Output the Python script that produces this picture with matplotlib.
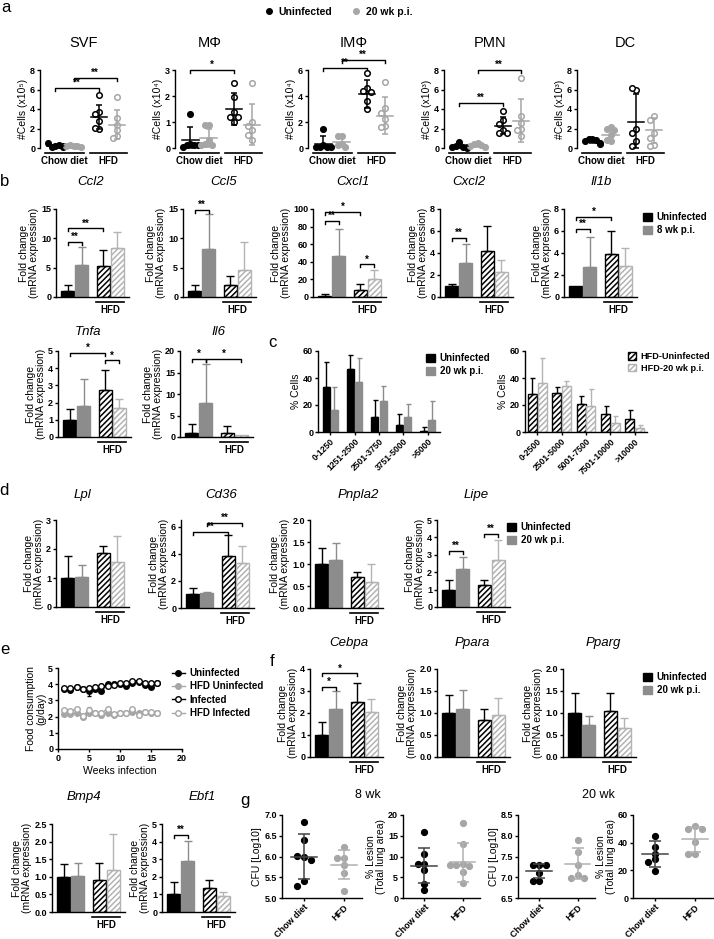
import numpy as np
import matplotlib.pyplot as plt
from matplotlib.patches import Patch
from matplotlib.lines import Line2D

W, H = 714, 939
BLACK = "#000000"
GREY = "#8c8c8c"
DOT_GREY = "#a6a6a6"
HATCH_GREY = "#b3b3b3"

plt.rcParams["font.family"] = ["Liberation Sans", "DejaVu Sans"]
plt.rcParams["font.weight"] = "bold"
plt.rcParams["hatch.linewidth"] = 1.1
plt.rcParams["axes.linewidth"] = 1.0

# ---------------- data ----------------
# a: cell numbers; groups = chow uninf, chow 20 wk, HFD uninf, HFD 20 wk
svf = [[0.2, 0.15, 0.3, 0.5, 0.1, 0.2], [0.25, 0.3, 0.2, 0.2, 0.15],
       [5.4, 3.7, 3.5, 2.8, 2.0, 2.1], [5.2, 3.1, 2.4, 1.8, 1.2, 1.0]]
svf_mean = [0.2, 0.2, 3.2, 2.4]
svf_sd = [0.15, 0.1, 1.2, 1.45]
mphi = [[1.3, 0.15, 0.1, 0.1, 0.05, 0.1], [0.9, 0.9, 0.3, 0.15, 0.1, 0.1],
        [2.5, 1.95, 1.4, 1.2, 1.2, 1.0], [2.5, 1.0, 0.85, 0.7, 0.5, 0.3]]
mphi_mean = [0.3, 0.4, 1.5, 0.9]
mphi_sd = [0.5, 0.35, 0.6, 0.8]
imphi = [[1.5, 0.2, 0.1, 0.05, 0.1, 0.05], [0.9, 0.9, 0.3, 0.2, 0.1],
         [5.8, 4.6, 4.4, 4.3, 3.6, 3.0], [5.1, 3.1, 2.7, 2.2, 1.7, 1.6]]
imphi_mean = [0.3, 0.5, 4.15, 2.5]
imphi_sd = [0.6, 0.35, 1.05, 1.4]
pmn = [[0.6, 0.2, 0.1, 0.1, 0.05, 0.1], [0.5, 0.4, 0.3, 0.2, 0.1],
       [3.8, 2.9, 2.5, 1.8, 1.5, 1.5], [7.2, 3.3, 2.6, 2.0, 1.8, 1.2]]
pmn_mean = [0.2, 0.3, 2.3, 2.8]
pmn_sd = [0.25, 0.2, 0.9, 2.2]
dc = [[0.9, 0.9, 0.8, 0.7, 0.5, 0.4], [2.2, 2.0, 1.8, 1.3, 0.8, 0.7],
      [6.0, 6.2, 2.0, 1.5, 0.7, 0.2], [3.3, 2.9, 1.5, 1.0, 0.3, 0.2]]
dc_mean = [0.75, 1.3, 2.7, 1.8]
dc_sd = [0.2, 0.7, 2.8, 1.3]

# b / d / f: fold change, bars = uninf, infected, HFD uninf, HFD infected
ccl2 = [1.0, 5.5, 5.3, 8.4]
ccl2_top = [2.0, 8.5, 8.0, 11.1]
ccl5 = [1.0, 8.1, 2.0, 4.6]
ccl5_top = [2.1, 14.1, 3.6, 9.4]
cxcl1 = [1.0, 47, 8, 20]
cxcl1_top = [3, 77, 15, 31]
cxcl2 = [1.0, 3.1, 4.2, 2.3]
cxcl2_top = [1.2, 4.8, 6.5, 3.4]
il1b = [1.0, 2.7, 3.9, 2.8]
il1b_top = [1.0, 5.5, 6.0, 4.5]
tnfa = [1.0, 1.8, 2.75, 1.7]
tnfa_top = [1.65, 3.4, 3.9, 2.2]
il6 = [1.0, 8.0, 1.0, 0.4]
il6_top = [3.1, 17.0, 2.5, 0.4]
lpl = [1.0, 1.05, 1.85, 1.55]
lpl_top = [1.75, 1.45, 2.1, 2.45]
cd36 = [1.0, 1.1, 3.85, 3.3]
cd36_top = [1.5, 1.2, 5.4, 4.55]
pnpla2 = [1.0, 1.08, 0.7, 0.6]
pnpla2_top = [1.37, 1.48, 0.82, 1.0]
lipe = [1.0, 2.2, 1.25, 2.7]
lipe_top = [1.55, 2.85, 1.55, 3.85]
cebpa = [1.0, 2.2, 2.5, 2.05]
cebpa_top = [1.6, 3.0, 3.35, 2.65]
ppara = [1.0, 1.1, 0.83, 0.95]
ppara_top = [1.42, 1.52, 1.1, 1.33]
pparg = [1.0, 0.72, 1.05, 0.65]
pparg_top = [1.45, 0.93, 1.45, 0.88]
bmp4 = [1.0, 1.03, 0.92, 1.2]
bmp4_top = [1.35, 1.4, 1.39, 2.23]
ebf1 = [1.0, 2.87, 1.35, 0.92]
ebf1_top = [1.72, 4.02, 1.82, 1.15]

# c: adipocyte size distribution
c_bins_chow = ["0-1250", "1251-2500", "2501-3750", "3751-5000", ">5000"]
c_uninf = [33, 47, 11, 5, 1]
c_uninf_top = [52, 57, 24, 13, 4]
c_inf = [16, 37, 23, 11, 9]
c_inf_top = [33, 55, 34, 21, 23]
c_bins_hfd = ["0-2500", "2501-5000", "5001-7500", "7501-10000", ">10000"]
c_hfd_uninf = [28, 29, 21, 13, 10]
c_hfd_uninf_top = [40, 33, 27, 19, 16]
c_hfd_inf = [36, 34, 19, 7, 3]
c_hfd_inf_top = [55, 38, 32, 12, 5]

# e: food consumption (g/day)
weeks = list(range(1, 17))
food_uninf = [3.7, 3.65, 3.85, 3.7, 3.55, 3.7, 3.6, 4.0, 4.0, 4.0, 3.9, 4.05, 4.15, 3.95, 3.85, 4.05]
food_uninf_err = [0.1, 0.05, 0.05, 0.05, 0.25, 0.1, 0.1, 0.1, 0.15, 0.1, 0.05, 0.05, 0.05, 0.05, 0.05, 0.05]
food_hfd_uninf = [2.15, 2.15, 2.2, 2.0, 2.2, 2.2, 2.1, 2.25, 2.1, 2.25, 2.25, 2.3, 2.2, 2.3, 2.25, 2.2]
food_hfd_uninf_err = [0.05, 0.05, 0.05, 0.15, 0.05, 0.05, 0.1, 0.05, 0.05, 0.05, 0.05, 0.05, 0.05, 0.05, 0.05, 0.05]
food_inf = [3.75, 3.75, 3.8, 3.7, 3.75, 3.8, 3.9, 3.9, 3.95, 4.05, 4.1, 4.2, 4.2, 4.05, 4.05, 4.05]
food_inf_err = [0.05, 0.05, 0.05, 0.05, 0.1, 0.15, 0.1, 0.05, 0.05, 0.05, 0.05, 0.05, 0.05, 0.05, 0.05, 0.05]
food_hfd_inf = [2.4, 2.35, 2.45, 2.05, 2.4, 2.2, 2.2, 2.5, 2.15, 2.2, 2.2, 2.45, 2.1, 2.3, 2.3, 2.2]
food_hfd_inf_err = [0.05, 0.05, 0.05, 0.1, 0.2, 0.05, 0.1, 0.05, 0.05, 0.05, 0.05, 0.05, 0.1, 0.05, 0.05, 0.05]

# g: lung burden
cfu8_chow = [6.82, 6.4, 6.0, 6.02, 5.92, 5.4, 5.3]
cfu8_hfd = [6.22, 5.97, 5.97, 5.8, 5.6, 5.18]
cfu8_mean = [6.0, 5.8]
cfu8_sd = [0.55, 0.35]
les8_chow = [15.8, 10.6, 8.1, 8.3, 6.7, 3.3, 1.9]
les8_hfd = [18.0, 13.1, 8.1, 7.9, 7.7, 6.3, 3.6, 7.9]
les8_mean = [7.8, 8.6]
les8_sd = [4.3, 4.7]
cfu20_chow = [7.3, 7.3, 7.3, 7.1, 6.9, 6.9]
cfu20_hfd = [7.9, 7.6, 7.3, 7.05, 6.98, 6.98]
cfu20_mean = [7.15, 7.33]
cfu20_sd = [0.18, 0.38]
les20_chow = [45, 37, 32, 28, 26, 19.5]
les20_hfd = [52, 50, 50, 40.5, 32, 32]
les20_mean = [32, 42.4]
les20_sd = [9.3, 9.2]

# ---------------- helpers ----------------
fig = plt.figure(figsize=(W / 100, H / 100), dpi=100)


def px_axes(x0, y0, x1, y1):
    ax = fig.add_axes([x0 / W, 1 - y1 / H, (x1 - x0) / W, (y1 - y0) / H])
    ax.patch.set_visible(False)
    for s in ("top", "right"):
        ax.spines[s].set_visible(False)
    ax.tick_params(length=2.5, width=1, pad=1, labelsize=6.5)
    return ax


def ticks_y(ax, lo, hi, step, fmt="{:g}", top=None):
    t = np.arange(lo, hi + step / 2, step)
    ax.set_yticks(t)
    ax.set_yticklabels([fmt.format(v) for v in t])
    ax.set_ylim(lo, hi if top is None else top)


def hpx(ax):
    return ax.get_position().height * H


def bracket(ax, x1, x2, y, txt):
    lo, hi = ax.get_ylim()
    d = (hi - lo) * 3 / hpx(ax)
    ax.plot([x1, x1, x2, x2], [y - d, y, y, y - d], color="k", lw=1, clip_on=False)
    ax.text((x1 + x2) / 2, y, txt, ha="center", va="bottom", fontsize=7, clip_on=False)


def group_line(ax, x1, x2, label):
    h = hpx(ax)
    tr = ax.get_xaxis_transform()
    ax.plot([x1, x2], [-5 / h, -5 / h], color="k", lw=1.2, transform=tr, clip_on=False)
    ax.text((x1 + x2) / 2, -8 / h, label, transform=tr, ha="center", va="top", fontsize=7)


def swarm(vals, tol, step):
    placed, offs = [], []
    for v in vals:
        for c in (0, -1, 1, -2, 2):
            if all(abs(v - pv) > tol or abs(c - pc) >= 1 for pv, pc in placed):
                break
        placed.append((v, c))
        offs.append(c * step)
    return np.array(offs)


def title(x, y, txt, italic=True, size=9.5):
    fig.text(x / W, 1 - y / H, txt, ha="center", va="center", fontsize=size,
             style="italic" if italic else "normal", weight="normal")


A_POS = [0, 1, 2.4, 3.4]


def dot_panel(x0, groups, means, sds, hi, step, ylabel, name, tx, sig=()):
    ax = px_axes(x0, 70, x0 + 87, 148)
    ax.spines["bottom"].set_visible(False)
    ax.set_xticks([])
    ax.set_xlim(-0.85, 3.95)
    ticks_y(ax, 0, hi, step)
    tol = hi * 5.5 / 78
    for k, (p, vals, m, s) in enumerate(zip(A_POS, groups, means, sds)):
        col = BLACK if k % 2 == 0 else DOT_GREY
        face = col if k < 2 else "white"
        offs = swarm(vals, tol, 0.2)
        ax.plot(p + offs, vals, "o", ms=4, mfc=face, mec=col, mew=1.1, clip_on=False, zorder=3)
        ax.plot([p - 0.45, p + 0.45], [m, m], color=col, lw=1.1, zorder=4)
        lo = max(m - s, 0)
        ax.errorbar(p, m, yerr=[[m - lo], [s]], fmt="none", ecolor=col, elinewidth=1.1,
                    capsize=2.5, capthick=1.1, zorder=4)
    group_line(ax, -0.55, 1.55, "Chow diet")
    group_line(ax, 1.9, 3.95, "HFD")
    for i, j, y, s in sig:
        bracket(ax, A_POS[i], A_POS[j], y, s)
    ax.set_ylabel(ylabel, fontsize=7.5, labelpad=1.5)
    title(tx, 43, name, italic=False, size=10.5)


BAR_POS = [0, 1, 2.5, 3.5]
BAR_STY = [
    dict(facecolor=BLACK, edgecolor=BLACK),
    dict(facecolor=GREY, edgecolor=GREY),
    dict(facecolor="white", edgecolor=BLACK, hatch="//////"),
    dict(facecolor="white", edgecolor=HATCH_GREY, hatch="//////"),
]
ERR_COL = [BLACK, GREY, BLACK, HATCH_GREY]


def bar_panel(x0, y0, y1, vals, tops, hi, step, name, tx, ty, sig=(), fmt="{:g}", top=None):
    ax = px_axes(x0, y0, x0 + 73, y1)
    ticks_y(ax, 0, hi, step, fmt, top)
    ax.set_xlim(-0.85, 4.35)
    ax.set_xticks([])
    for p, v, t, st, ec in zip(BAR_POS, vals, tops, BAR_STY, ERR_COL):
        ax.bar(p, v, width=0.93, linewidth=1, **st)
        if t > v:
            ax.errorbar(p, v, yerr=[[0], [t - v]], fmt="none", ecolor=ec, elinewidth=1,
                        capsize=3, capthick=1)
    group_line(ax, 2.0, 4.0, "HFD")
    for i, j, y, s in sig:
        bracket(ax, BAR_POS[i], BAR_POS[j], y, s)
    ax.set_ylabel("Fold change\n(mRNA expression)", fontsize=7.5, linespacing=1.0, labelpad=1.5)
    title(tx, ty, name)
    return ax


def sq_legend(x, y, labels, handles, size=7):
    fig.legend(handles, labels, loc="upper left", bbox_to_anchor=(x / W, 1 - y / H),
               frameon=False, fontsize=size, handlelength=0.9, handleheight=0.9,
               handletextpad=0.5, labelspacing=0.3, borderaxespad=0, borderpad=0)


def hist_panel(x0, x1, labels, v1, t1, v2, t2, st1, st2, ec1, ec2, width, sh):
    ax = px_axes(x0, 351, x1, 432)
    ticks_y(ax, 0, 60, 20)
    idx = np.arange(len(labels))
    ax.set_xlim(idx[0] - 0.5, idx[-1] + 0.5)
    for off, v, t, st, ec in ((-sh, v1, t1, st1, ec1), (sh, v2, t2, st2, ec2)):
        ax.bar(idx + off, v, width=width, linewidth=1, **st)
        ax.errorbar(idx + off, v, yerr=[np.zeros(len(v)), np.array(t) - np.array(v)],
                    fmt="none", ecolor=ec, elinewidth=1, capsize=1.8, capthick=1)
    ax.set_xticks(idx)
    ax.set_xticklabels(labels, rotation=45, ha="right", rotation_mode="anchor", fontsize=6.2)
    ax.set_ylabel("% Cells", fontsize=7.5, labelpad=1.5)
    return ax


def lung_panel(x0, x1, chow, hfd, means, sds, lo, hi, step, ylabel, fmt):
    ax = px_axes(x0, 815, x1, 898)
    ticks_y(ax, lo, hi, step, fmt)
    ax.set_xlim(-0.55, 1.45)
    ax.set_xticks([0, 1])
    ax.set_xticklabels(["Chow diet", "HFD"], rotation=45, ha="right", rotation_mode="anchor",
                       fontsize=6.5)
    tol = (hi - lo) * 5.5 / 83
    for p, vals, m, s, col, lcol in ((0, chow, means[0], sds[0], BLACK, "#444444"),
                                     (1, hfd, means[1], sds[1], DOT_GREY, "#b0b0b0")):
        ax.plot(p + swarm(vals, tol, 0.17), vals, "o", ms=4.2, color=col, clip_on=False, zorder=3)
        ax.plot([p - 0.33, p + 0.33], [m, m], color=lcol, lw=1.1, zorder=4)
        ax.errorbar(p, m, yerr=s, fmt="none", ecolor=lcol, elinewidth=1.1, capsize=4,
                    capthick=1.1, zorder=4)
    ax.set_ylabel(ylabel, fontsize=7.5, linespacing=1.0, labelpad=1.5)


# ---------------- panel a ----------------
fig.legend([Line2D([], [], ls="none", marker="o", ms=4, color=BLACK),
            Line2D([], [], ls="none", marker="o", ms=4, color=DOT_GREY)],
           ["Uninfected", "20 wk p.i."], loc="center left",
           bbox_to_anchor=(264 / W, 1 - 12 / H), ncol=2, frameon=False, fontsize=7.5,
           handlelength=1.0, handletextpad=0.4, columnspacing=1.8, borderaxespad=0, borderpad=0)
dot_panel(40, svf, svf_mean, svf_sd, 8, 2, "#Cells (x10⁵)", "SVF", 84,
          [(0, 2, 6.2, "**"), (1, 3, 7.2, "**")])
dot_panel(175, mphi, mphi_mean, mphi_sd, 3, 1, "#Cells (x10⁴)", "MΦ", 210,
          [(0, 2, 3.0, "*")])
dot_panel(308, imphi, imphi_mean, imphi_sd, 6, 2, "#Cells (x10⁴)", "IMΦ", 354,
          [(0, 2, 6.15, "**"), (1, 3, 6.75, "**")])
dot_panel(444, pmn, pmn_mean, pmn_sd, 8, 2, "#Cells (x10³)", "PMN", 490,
          [(0, 2, 4.6, "**"), (1, 3, 8.0, "**")])
dot_panel(577, dc, dc_mean, dc_sd, 8, 2, "#Cells (x10³)", "DC", 625)

# ---------------- panel b ----------------
bar_panel(56, 209, 297, ccl2, ccl2_top, 15, 5, "Ccl2", 91, 182,
          [(0, 1, 9.4, "**"), (0, 2, 11.7, "**")])
bar_panel(183, 209, 297, ccl5, ccl5_top, 15, 5, "Ccl5", 224, 182, [(0, 1, 14.8, "**")])
bar_panel(313, 209, 297, cxcl1, cxcl1_top, 100, 20, "Cxcl1", 353, 182,
          [(0, 1, 86, "**"), (0, 2, 97, "*"), (2, 3, 37, "*")])
bar_panel(440, 209, 297, cxcl2, cxcl2_top, 8, 2, "Cxcl2", 469, 182, [(0, 1, 5.4, "**")])
bar_panel(564, 209, 297, il1b, il1b_top, 8, 2, "Il1b", 601, 182,
          [(0, 1, 6.2, "**"), (0, 2, 7.3, "*")])
bar_panel(58, 351, 437, tnfa, tnfa_top, 5, 1, "Tnfa", 88, 332,
          [(0, 2, 4.9, "*"), (2, 3, 4.45, "*")])
bar_panel(180, 351, 437, il6, il6_top, 20, 5, "Il6", 218, 332,
          [(0, 1, 18.2, "*"), (1, 3, 18.2, "*")])
sq_legend(643, 212, ["Uninfected", "8 wk p.i."],
          [Patch(facecolor=BLACK, edgecolor=BLACK), Patch(facecolor=GREY, edgecolor=GREY)])

# ---------------- panel c ----------------
hist_panel(318, 440, c_bins_chow, c_uninf, c_uninf_top, c_inf, c_inf_top,
           dict(facecolor=BLACK, edgecolor=BLACK), dict(facecolor=GREY, edgecolor=GREY),
           BLACK, GREY, 0.29, 0.17)
hist_panel(525, 647, c_bins_hfd, c_hfd_uninf, c_hfd_uninf_top, c_hfd_inf, c_hfd_inf_top,
           BAR_STY[2], BAR_STY[3], BLACK, HATCH_GREY, 0.37, 0.2)
sq_legend(426, 353, ["Uninfected", "20 wk p.i."],
          [Patch(facecolor=BLACK, edgecolor=BLACK), Patch(facecolor=GREY, edgecolor=GREY)])
sq_legend(628, 352, ["HFD-Uninfected", "HFD-20 wk p.i."],
          [Patch(**BAR_STY[2]), Patch(**BAR_STY[3])], size=6.6)

# ---------------- panel d ----------------
bar_panel(56, 520, 607, lpl, lpl_top, 3, 1, "Lpl", 82, 495)
bar_panel(181, 520, 608, cd36, cd36_top, 6, 2, "Cd36", 221, 495,
          [(0, 2, 5.6, "**"), (1, 3, 6.3, "**")], top=6.5)
bar_panel(310, 520, 608, pnpla2, pnpla2_top, 2, 0.5, "Pnpla2", 358, 495, fmt="{:.1f}")
bar_panel(437, 520, 607, lipe, lipe_top, 5, 1, "Lipe", 476, 495,
          [(0, 1, 3.2, "**"), (2, 3, 4.2, "**")])
sq_legend(507, 522, ["Uninfected", "20 wk p.i."],
          [Patch(facecolor=BLACK, edgecolor=BLACK), Patch(facecolor=GREY, edgecolor=GREY)])

# ---------------- panel e ----------------
ax = px_axes(58, 668, 182, 749)
ax.set_xlim(0, 20)
ax.set_xticks([0, 5, 10, 15, 20])
ticks_y(ax, 0, 5, 1)
e_series = [
    (food_uninf, food_uninf_err, BLACK, BLACK, "Uninfected"),
    (food_hfd_uninf, food_hfd_uninf_err, DOT_GREY, DOT_GREY, "HFD Uninfected"),
    (food_inf, food_inf_err, BLACK, "white", "Infected"),
    (food_hfd_inf, food_hfd_inf_err, DOT_GREY, "white", "HFD Infected"),
]
handles = []
for vals, errs, col, face, lab in e_series:
    ax.errorbar(weeks, vals, yerr=errs, color=col, marker="o", ms=4, mfc=face, mec=col,
                mew=1, lw=1, capsize=1.5, elinewidth=0.8)
    handles.append(Line2D([], [], color=col, marker="o", ms=4, mfc=face, mec=col, mew=1, lw=1))
ax.set_xlabel("Weeks infection", fontsize=7.5, labelpad=2)
ax.set_ylabel("Food consumption\n(g/day)", fontsize=7.5, linespacing=1.0, labelpad=1.5)
fig.legend(handles, [s[4] for s in e_series], loc="upper left",
           bbox_to_anchor=(172 / W, 1 - 668 / H), frameon=False, fontsize=7,
           handlelength=1.3, handletextpad=0.5, labelspacing=0.35, borderaxespad=0, borderpad=0)

# ---------------- panel f ----------------
bar_panel(310, 669, 757, cebpa, cebpa_top, 4, 1, "Cebpa", 349, 643,
          [(0, 1, 3.2, "*"), (0, 2, 3.8, "*")])
bar_panel(437, 669, 757, ppara, ppara_top, 2, 0.5, "Ppara", 472, 643, fmt="{:.1f}")
bar_panel(563, 669, 757, pparg, pparg_top, 2, 0.5, "Pparg", 603, 643, fmt="{:.1f}")
sq_legend(643, 672, ["Uninfected", "20 wk p.i."],
          [Patch(facecolor=BLACK, edgecolor=BLACK), Patch(facecolor=GREY, edgecolor=GREY)])
bar_panel(52, 824, 912, bmp4, bmp4_top, 2.5, 0.5, "Bmp4", 84, 797, fmt="{:.1f}")
bar_panel(162, 824, 912, ebf1, ebf1_top, 5, 1, "Ebf1", 202, 797, [(0, 1, 4.4, "**")])

# ---------------- panel g ----------------
lung_panel(282, 362, cfu8_chow, cfu8_hfd, cfu8_mean, cfu8_sd, 5, 7, 0.5, "CFU [Log10]", "{:.1f}")
lung_panel(403, 480, les8_chow, les8_hfd, les8_mean, les8_sd, 0, 20, 5,
           "% Lesion\n(Total lung area)", "{:g}")
lung_panel(518, 595, cfu20_chow, cfu20_hfd, cfu20_mean, cfu20_sd, 6.5, 8.5, 0.5,
           "CFU [Log10]", "{:.1f}")
lung_panel(633, 713, les20_chow, les20_hfd, les20_mean, les20_sd, 0, 60, 20,
           "% Lesion\n(Total lung area)", "{:g}")
title(368, 795, "8 wk", italic=False, size=9)
title(598, 795, "20 wk", italic=False, size=9)

# ---------------- panel letters ----------------
for lx, ly, lt in ((6, 8, "a"), (5, 181, "b"), (272, 342, "c"), (4, 490, "d"),
                   (5, 650, "e"), (272, 662, "f"), (245, 800, "g")):
    fig.text(lx / W, 1 - ly / H, lt, ha="center", va="center", fontsize=12, weight="normal")

fig.savefig("out.png", dpi=100)
